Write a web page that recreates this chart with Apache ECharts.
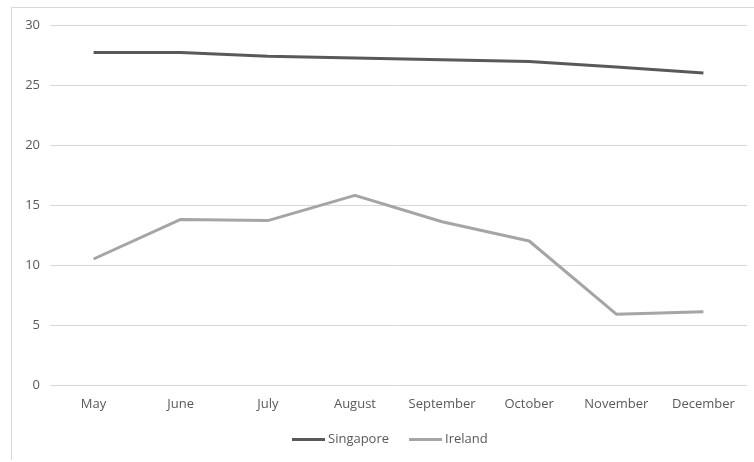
<!DOCTYPE html>
<html>
<head>
<meta charset="utf-8">
<script src="https://cdn.jsdelivr.net/npm/echarts@6/dist/echarts.min.js"></script>
<style>
  html, body { margin: 0; padding: 0; background: #fff; }
  #frame { position: absolute; left: 11px; top: 7px; width: 743px; height: 452px;
           border-top: 1px solid #d9d9d9; border-left: 1px solid #d9d9d9; }
  #chart { position: absolute; left: 0; top: 0; width: 754px; height: 462px; }
</style>
</head>
<body>
<div id="frame"></div>
<div id="chart"></div>
<script>
const months = ['May', 'June', 'July', 'August', 'September', 'October', 'November', 'December'];
const singapore = [27.7, 27.7, 27.4, 27.25, 27.1, 26.95, 26.5, 26.0];
const ireland = [10.5, 13.8, 13.7, 15.8, 13.6, 12.0, 5.9, 6.1];

const labelFont = { color: '#595959', fontFamily: 'Open Sans', fontSize: 13 };

const myChart = echarts.init(document.getElementById('chart'));
myChart.setOption({
  animation: false,
  grid: { left: 50, right: 7, top: 25, bottom: 77 },
  legend: {
    bottom: 16,
    left: 292,
    icon: 'rect',
    itemWidth: 33,
    itemHeight: 3,
    itemGap: 20,
    padding: 0,
    textStyle: Object.assign({ padding: [0, 0, 0, -2] }, labelFont),
    data: ['Singapore', 'Ireland']
  },
  xAxis: {
    type: 'category',
    data: months,
    boundaryGap: true,
    axisLine: { show: false },
    axisTick: { show: false },
    axisLabel: Object.assign({ margin: 13 }, labelFont)
  },
  yAxis: {
    type: 'value',
    min: 0,
    max: 30,
    interval: 5,
    axisLine: { show: false },
    axisTick: { show: false },
    axisLabel: Object.assign({ margin: 10 }, labelFont),
    splitLine: { lineStyle: { color: '#d9d9d9', width: 1 } }
  },
  series: [
    {
      name: 'Singapore',
      type: 'line',
      data: singapore,
      showSymbol: false,
      lineStyle: { color: '#595959', width: 3 },
      itemStyle: { color: '#595959' }
    },
    {
      name: 'Ireland',
      type: 'line',
      data: ireland,
      showSymbol: false,
      lineStyle: { color: '#a5a5a5', width: 3 },
      itemStyle: { color: '#a5a5a5' }
    }
  ]
});
</script>
</body>
</html>
